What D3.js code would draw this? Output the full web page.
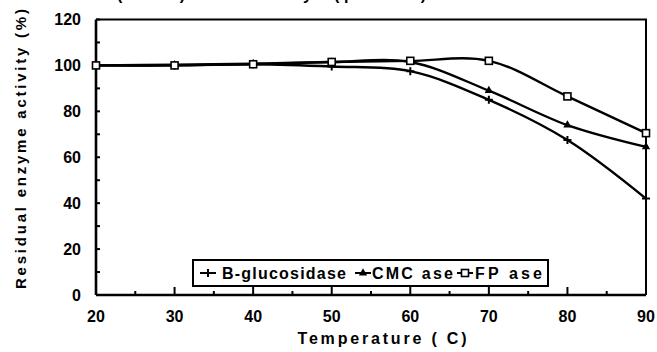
<!DOCTYPE html>
<html>
<head>
<meta charset="utf-8">
<script src="https://cdn.jsdelivr.net/npm/d3@7"></script>
<style>
  body { margin: 0; background: #fff; }
  text { font-family: "Liberation Sans", Arial, sans-serif; font-weight: bold; fill: #000; }
</style>
</head>
<body>
<svg id="chart" width="657" height="352"></svg>
<script>
// temperature stability data
const temps   = [20, 30, 40, 50, 60, 70, 80, 90];
const bGluc   = [100, 100, 100.5, 99.5, 97.5, 85, 67.5, 42];
const cmcAse  = [100, 100.3, 100.8, 101.5, 101.5, 89, 74, 64.5];
const fpAse   = [100, 100, 100.5, 101.5, 102, 102, 86.5, 70.5];
const seriesNames = ['B-glucosidase', 'CMC ase', 'FP ase'];
const yTicks  = [0, 20, 40, 60, 80, 100, 120];
const xTicks  = [20, 30, 40, 50, 60, 70, 80, 90];

const svg = d3.select('#chart');
const x = d3.scaleLinear().domain([20, 90]).range([96, 646]);
const y = d3.scaleLinear().domain([0, 120]).range([295, 19.5]);

// title cut off at the top of the scan, only descenders show
const title = svg.append('text').attr('y', -0.5).style('font-size', '16px');
[['Thermal ', 40, 79], ['(60 min)', 117, 68], [' stability', 230, 82], ['(pH 5.0)', 334, 92]]
  .forEach(([t, x0, w]) => title.append('tspan').attr('x', x0).attr('textLength', w).attr('lengthAdjust', 'spacing').text(t));

// frame (top + right)
svg.append('path')
  .attr('d', `M${x(20)},${y(120)}H${x(90)}V${y(0)}`)
  .attr('fill', 'none').attr('stroke', '#000').attr('stroke-width', 2);

// y axis
const yAxis = svg.append('g');
yAxis.append('line').attr('x1', x(20)).attr('x2', x(20)).attr('y1', y(120)).attr('y2', y(0))
  .attr('stroke', '#000').attr('stroke-width', 2.6);
yAxis.selectAll('.yt').data(d3.range(0, 121, 10)).join('line')
  .attr('x1', x(20)).attr('x2', x(20) + 4).attr('y1', d => y(d)).attr('y2', d => y(d))
  .attr('stroke', '#000').attr('stroke-width', 2);
yAxis.selectAll('.yl').data(yTicks).join('text')
  .attr('x', 81).attr('y', d => y(d) + 5.5).attr('text-anchor', 'end')
  .style('font-size', '16px').text(d => d);

// x axis
const xAxis = svg.append('g');
xAxis.append('line').attr('x1', x(20)).attr('x2', x(90)).attr('y1', y(0)).attr('y2', y(0))
  .attr('stroke', '#000').attr('stroke-width', 2.6);
xAxis.selectAll('.xt').data(d3.range(25, 90, 5)).join('line')
  .attr('x1', d => x(d)).attr('x2', d => x(d))
  .attr('y1', y(0)).attr('y2', d => y(0) - (d % 10 === 0 ? 8 : 4))
  .attr('stroke', '#000').attr('stroke-width', 2);
xAxis.selectAll('.xl').data(xTicks).join('text')
  .attr('x', d => x(d)).attr('y', 321.5).attr('text-anchor', 'middle')
  .style('font-size', '16px').text(d => d);

// axis titles
svg.append('text')
  .attr('transform', 'translate(26,149) rotate(-90)')
  .attr('text-anchor', 'middle').style('font-size', '15px')
  .attr('textLength', 280).attr('lengthAdjust', 'spacing')
  .text('Residual enzyme activity (%)');
svg.append('text')
  .attr('x', 382).attr('y', 344).attr('text-anchor', 'middle').style('font-size', '16px')
  .attr('textLength', 169).attr('lengthAdjust', 'spacing')
  .text('Temperature ( C)');

// markers
function drawMarker(g, kind, cx, cy){
  if(kind === 0){
    g.append('path').attr('d', `M${cx-4},${cy}H${cx+4}M${cx},${cy-4}V${cy+4}`)
      .attr('stroke', '#000').attr('stroke-width', 2);
  } else if(kind === 1){
    g.append('path').attr('d', d3.symbol(d3.symbolTriangle, 30)())
      .attr('transform', `translate(${cx},${cy})`).attr('fill', '#000');
  } else {
    g.append('rect').attr('x', cx-3.5).attr('y', cy-3.5).attr('width', 7).attr('height', 7)
      .attr('fill', '#fff').attr('stroke', '#000').attr('stroke-width', 1.6);
  }
}

const allSeries = [bGluc, cmcAse, fpAse];
const line = d3.line().x((d, i) => x(temps[i])).y(d => y(d)).curve(d3.curveCatmullRom.alpha(0.5));
const plot = svg.append('g');
allSeries.forEach((vals, k) => {
  plot.append('path').attr('d', line(vals)).attr('fill', 'none')
    .attr('stroke', '#000').attr('stroke-width', 2.4);
});
allSeries.forEach((vals, k) => {
  const g = plot.append('g');
  vals.forEach((v, i) => drawMarker(g, k, x(temps[i]), y(v)));
});

// legend
const lg = svg.append('g');
lg.append('rect').attr('x', 193).attr('y', 260).attr('width', 355).attr('height', 26)
  .attr('fill', '#fff').attr('stroke', '#000').attr('stroke-width', 2);
const legendPos = [[200, 222, 124], [355, 372, 81], [457, 475, 67]];
seriesNames.forEach((name, k) => {
  const [lx, tx, tw] = legendPos[k];
  lg.append('line').attr('x1', lx).attr('x2', lx + 16).attr('y1', 273).attr('y2', 273)
    .attr('stroke', '#000').attr('stroke-width', 2);
  drawMarker(lg, k, lx + 8, 273);
  lg.append('text').attr('x', tx).attr('y', 278.5).style('font-size', '16px')
    .attr('textLength', tw).attr('lengthAdjust', 'spacing').text(name);
});
</script>
</body>
</html>
